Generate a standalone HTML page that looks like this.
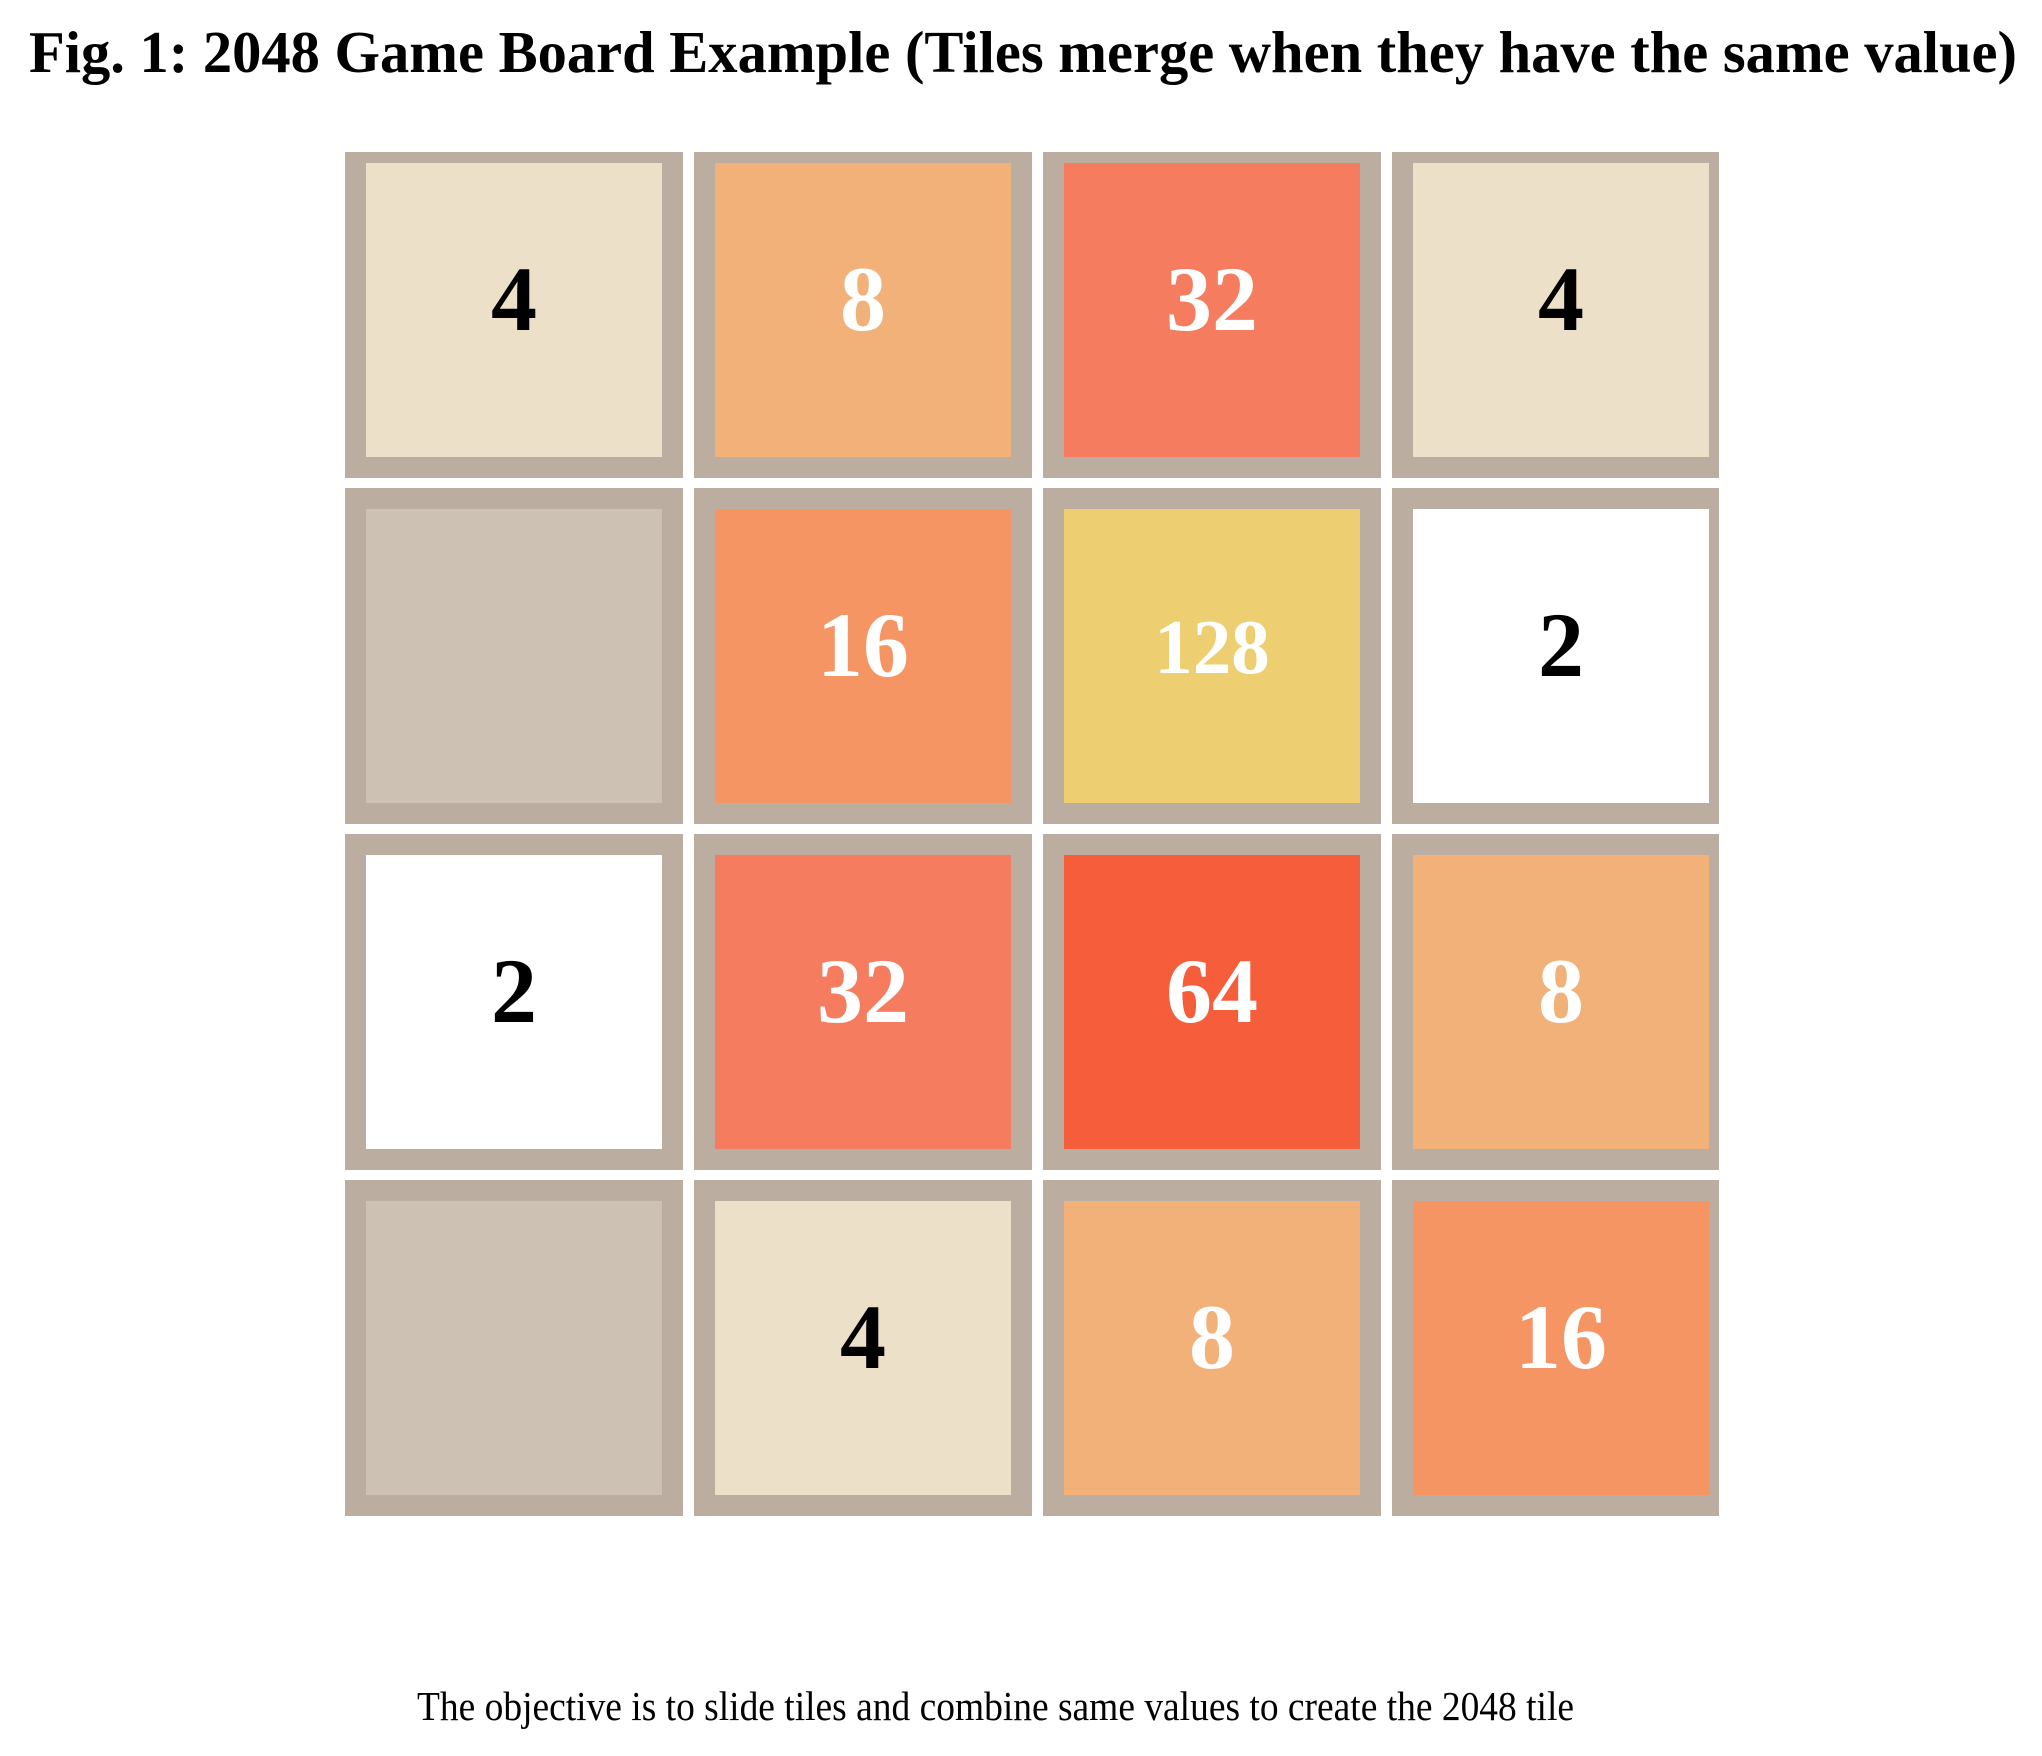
<!DOCTYPE html>
<html><head><meta charset="utf-8"><style>
html,body{margin:0;padding:0;background:#fff;}
svg{display:block;}
text{font-family:"Liberation Serif",serif;}
</style></head><body>
<svg id="chart" width="2042" height="1756" viewBox="0 0 2042 1756" xmlns="http://www.w3.org/2000/svg">
<defs><clipPath id="bc"><rect x="345" y="152" width="1374" height="1366"/></clipPath></defs>
<text x="29" y="72" font-size="59" font-weight="bold" textLength="1988" lengthAdjust="spacingAndGlyphs">Fig. 1: 2048 Game Board Example (Tiles merge when they have the same value)</text>
<g id="board" clip-path="url(#bc)"></g>
<text x="417" y="1720" font-size="41" textLength="1157" lengthAdjust="spacingAndGlyphs">The objective is to slide tiles and combine same values to create the 2048 tile</text>
</svg>
<script>
const rows = [0,1,2,3];
const cols = [0,1,2,3];
const boardValues = [
  [4, 8, 32, 4],
  [0, 16, 128, 2],
  [2, 32, 64, 8],
  [0, 4, 8, 16]
];
const tileColors = {0:'#cdc1b4',2:'#ffffff',4:'#ede0c8',8:'#f2b179',16:'#f59563',32:'#f67c5f',64:'#f65e3b',128:'#edcf72'};
const NS='http://www.w3.org/2000/svg';
const g=document.getElementById('board');
function colX(c){return 366+c*349;}
function rowY(r){return 163+r*346;}
const W=296,H=294,B=21;
rows.forEach(r=>{cols.forEach(c=>{
  const v=boardValues[r][c];
  const x=colX(c), y=rowY(r);
  const outer=document.createElementNS(NS,'rect');
  
  
  outer.setAttribute('x',x-B);outer.setAttribute('y',y-B);
  outer.setAttribute('width',W+2*B);outer.setAttribute('height',H+2*B);
  outer.setAttribute('fill','#bbada0');
  g.appendChild(outer);
  const inner=document.createElementNS(NS,'rect');
  
  
  inner.setAttribute('x',x);inner.setAttribute('y',y);
  inner.setAttribute('width',W);inner.setAttribute('height',H);
  inner.setAttribute('fill',tileColors[v]||'#3c3a32');
  g.appendChild(inner);
  if(v>0){
    const t=document.createElementNS(NS,'text');
    
    
    const fs=v>=100?77:92;
    const cx=x+W/2, base=v>=100?y+H/2+17:y+H/2+20;
    t.setAttribute('transform','translate('+cx+','+base+')');
    t.setAttribute('text-anchor','middle');
    t.setAttribute('font-size',fs);
    t.setAttribute('font-weight','bold');
    t.setAttribute('fill',v<=4?'#000000':'#ffffff');
    t.textContent=String(v);
    g.appendChild(t);
  }
});});
</script>
</body></html>
